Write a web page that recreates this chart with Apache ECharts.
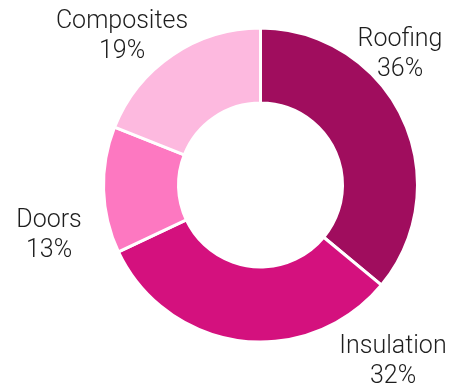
<!DOCTYPE html>
<html>
<head>
<meta charset="utf-8">
<script src="https://cdn.jsdelivr.net/npm/echarts@6/dist/echarts.min.js"></script>
<style>
  html, body { margin: 0; padding: 0; background: #ffffff; }
  #chart { width: 451px; height: 388px; }
</style>
</head>
<body>
<div id="chart"></div>
<script>
// Share of product categories
const categories = ['Roofing', 'Insulation', 'Doors', 'Composites'];
const shares = [36, 32, 13, 19];
const colors = ['#a00d5e', '#d4117e', '#fd78c1', '#fdb9df'];

// Centre of each two-line category label
const labelAnchors = [
  [400, 55],
  [393, 362],
  [49, 236],
  [122, 37]
];

const chart = echarts.init(document.getElementById('chart'), null, { renderer: 'canvas' });

chart.setOption({
  animation: false,
  graphic: categories.map((name, i) => ({
    type: 'text',
    x: labelAnchors[i][0],
    y: labelAnchors[i][1],
    style: {
      text: name + '\n' + shares[i] + '%',
      fontFamily: 'Roboto',
      fontWeight: 300,
      fontSize: 25,
      lineHeight: 30,
      fill: '#1e1e1e',
      align: 'center',
      verticalAlign: 'middle'
    }
  })),
  series: [{
    type: 'pie',
    center: [260.5, 185],
    radius: [82, 157],
    startAngle: 90,
    clockwise: true,
    itemStyle: { borderColor: '#ffffff', borderWidth: 3 },
    label: { show: false },
    labelLine: { show: false },
    emphasis: { disabled: true },
    data: categories.map((name, i) => ({
      name,
      value: shares[i],
      itemStyle: { color: colors[i] }
    }))
  }]
});
</script>
</body>
</html>
